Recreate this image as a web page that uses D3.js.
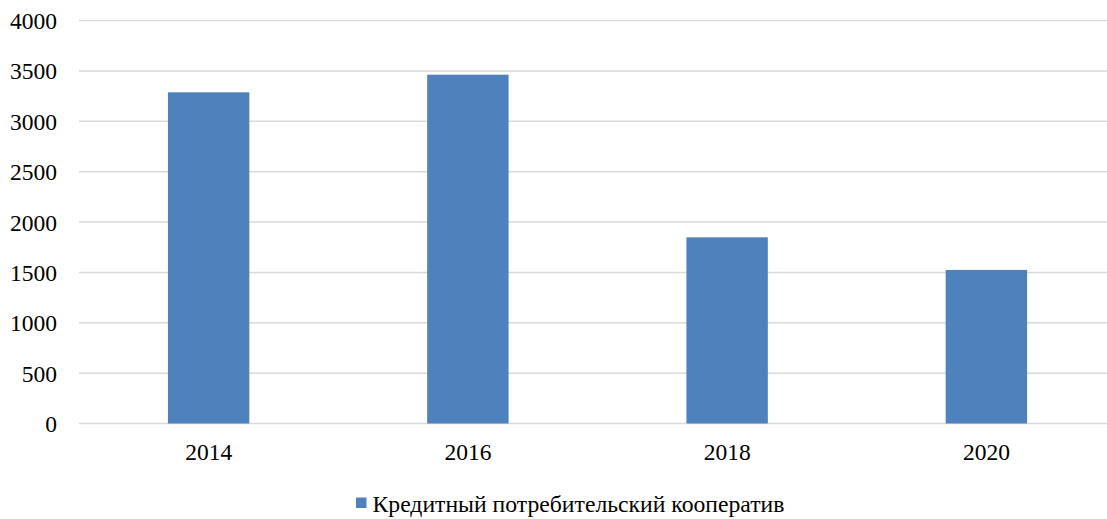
<!DOCTYPE html>
<html>
<head>
<meta charset="utf-8">
<script src="https://cdn.jsdelivr.net/npm/d3@7"></script>
<style>
  html, body { margin: 0; padding: 0; background: #fff; }
  svg { display: block; }
  text { font-family: "Liberation Serif", "Times New Roman", serif; fill: #000; }
</style>
</head>
<body>
<svg id="chart" width="1107" height="519"></svg>
<script>
// Data: credit consumer cooperatives by year
const years = ["2014", "2016", "2018", "2020"];
const values = [3287, 3462, 1848, 1524];
const yTicks = [0, 500, 1000, 1500, 2000, 2500, 3000, 3500, 4000];
const seriesName = "Кредитный потребительский кооператив";
const barColor = "#4f81bd";
const serif = "Liberation Serif";

const svg = d3.select("#chart");

const x = d3.scaleBand()
  .domain(years)
  .range([79, 1116])
  .paddingInner(0.686)
  .paddingOuter(0.343);

const y = d3.scaleLinear()
  .domain([0, 4000])
  .range([423.5, 20.5]);

// Horizontal gridlines
svg.append("g")
  .selectAll("line")
  .data(yTicks)
  .join("line")
  .attr("x1", 79)
  .attr("x2", 1107)
  .attr("y1", d => y(d))
  .attr("y2", d => y(d))
  .attr("stroke", "#d9d9d9")
  .attr("stroke-width", 1.5);

// Y axis labels
const yAxis = d3.axisLeft(y).tickValues(yTicks).tickSize(0).tickPadding(0).tickFormat(d3.format("d"));
const gy = svg.append("g").attr("transform", "translate(57,0)").call(yAxis);
gy.attr("font-family", serif).attr("font-size", null);
gy.select(".domain").remove();
gy.selectAll("text")
  .style("font-family", serif)
  .style("font-size", "23.5px")
  .attr("fill", "#000")
  .attr("dy", "0.34em");

// Bars
svg.append("g")
  .selectAll("rect")
  .data(years.map((yr, i) => ({ yr, v: values[i] })))
  .join("rect")
  .attr("x", d => x(d.yr))
  .attr("y", d => y(d.v))
  .attr("width", x.bandwidth())
  .attr("height", d => y(0) - y(d.v))
  .attr("fill", barColor);

// X axis labels
const xAxis = d3.axisBottom(x).tickSize(0).tickPadding(0);
const gx = svg.append("g").attr("transform", "translate(0,460)").call(xAxis);
gx.attr("font-family", serif).attr("font-size", null);
gx.select(".domain").remove();
gx.selectAll("text")
  .style("font-family", serif)
  .style("font-size", "23.5px")
  .attr("fill", "#000")
  .attr("y", 0)
  .attr("dy", 0);

// Legend
const legend = svg.append("g");
legend.append("rect")
  .attr("x", 356)
  .attr("y", 497.5)
  .attr("width", 10.5)
  .attr("height", 10.5)
  .attr("fill", barColor);
legend.append("text")
  .attr("x", 372.5)
  .attr("y", 512)
  .style("font-family", serif)
  .style("font-size", "23.7px")
  .text(seriesName);
</script>
</body>
</html>
